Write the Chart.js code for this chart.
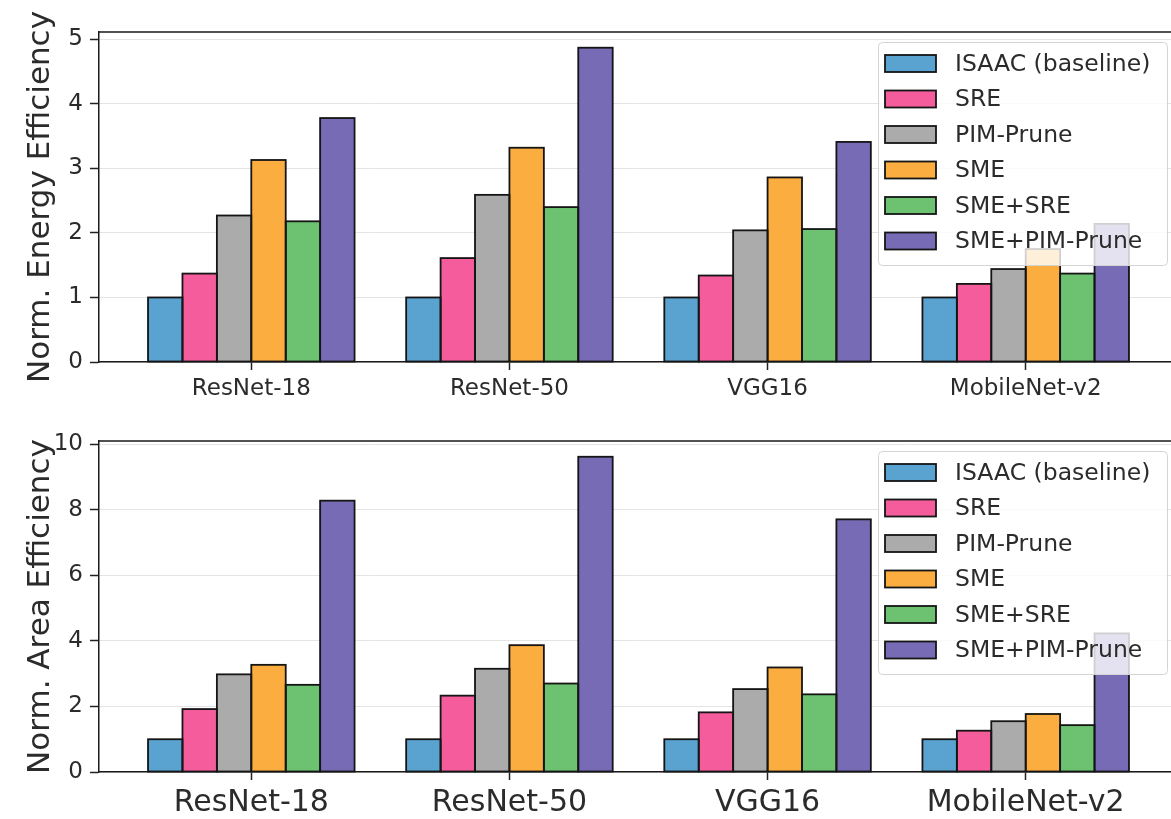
<!DOCTYPE html>
<html>
<head>
<meta charset="utf-8">
<script src="https://cdn.jsdelivr.net/npm/chart.js@4.4.1/dist/chart.umd.min.js"></script>
<style>
  html, body { margin: 0; padding: 0; background: #fff; overflow: hidden; }
  #wrap { position: relative; width: 1171px; height: 819px; overflow: hidden; }
  canvas { position: absolute; left: 0; }
  #energyChart { top: 0; }
  #areaChart { top: 410px; }
</style>
</head>
<body>
<div id="wrap">
  <canvas id="energyChart" width="1200" height="410"></canvas>
  <canvas id="areaChart" width="1200" height="409"></canvas>
</div>
<script>
// Networks on the x axis
const categories = ['ResNet-18', 'ResNet-50', 'VGG16', 'MobileNet-v2'];
const seriesNames = ['ISAAC (baseline)', 'SRE', 'PIM-Prune', 'SME', 'SME+SRE', 'SME+PIM-Prune'];
const seriesColors = ['#5aa2d0', '#f45c9b', '#ababab', '#fbad3f', '#6cc270', '#786bb6'];

const energyTicks = [0, 1, 2, 3, 4, 5];
const areaTicks = [0, 2, 4, 6, 8, 10];

// Normalized energy efficiency
const isaacEnergy = [1.0, 1.0, 1.0, 1.0];
const sreEnergy = [1.37, 1.61, 1.34, 1.21];
const pimEnergy = [2.27, 2.59, 2.04, 1.44];
const smeEnergy = [3.13, 3.32, 2.86, 1.75];
const smeSreEnergy = [2.18, 2.40, 2.06, 1.37];
const smePimEnergy = [3.78, 4.87, 3.41, 2.14];

// Normalized area efficiency
const isaacArea = [1.0, 1.0, 1.0, 1.0];
const sreArea = [1.92, 2.33, 1.82, 1.26];
const pimArea = [2.98, 3.15, 2.53, 1.55];
const smeArea = [3.27, 3.87, 3.19, 1.77];
const smeSreArea = [2.66, 2.70, 2.37, 1.43];
const smePimArea = [8.28, 9.62, 7.71, 4.23];

const FONT = 'DejaVu Sans';
const TEXT = '#2b2b2b';
const EDGE = '#151515';
const EDGE_W = 1.8;

// plot box: y axis takes 99px on the left, 22px of canvas kept free on the right
const AXIS_W = 99;
const PAD_R = 22;
const GROUP = 0.8;   // share of a category taken by its bar group

function barDatasets(series, thickness) {
    return series.map((vals, k) => ({
        label: seriesNames[k],
        data: vals.map((v, i) => ({ x: i, y: v })),
        backgroundColor: seriesColors[k],
        borderWidth: 0,
        barThickness: thickness,
    }));
}

// bar outlines centred on the edges, top spine, then the legend box over the bars
const framePlugin = {
    id: 'frame',
    afterDatasetsDraw(chart, args, opts) {
        const { ctx, chartArea: a } = chart;
        ctx.save();

        ctx.strokeStyle = EDGE;
        ctx.lineWidth = EDGE_W;
        chart.data.datasets.forEach((ds, k) => {
            chart.getDatasetMeta(k).data.forEach((bar) => {
                const { x, y, base, width } = bar.getProps(['x', 'y', 'base', 'width'], true);
                ctx.strokeRect(x - width / 2, y, width, base - y);
            });
        });

        ctx.strokeStyle = '#1a1a1a';
        ctx.lineWidth = 1.5;
        ctx.beginPath();
        ctx.moveTo(a.left, a.top);
        ctx.lineTo(a.right, a.top);
        ctx.lineTo(a.right, a.bottom);
        ctx.stroke();

        const bx = a.right - 300, by = a.top + opts.top, bw = 289, bh = 223;
        ctx.fillStyle = 'rgba(255,255,255,0.8)';
        ctx.strokeStyle = '#d4d4d4';
        ctx.lineWidth = 1;
        ctx.beginPath();
        ctx.roundRect(bx + 0.5, by + 0.5, bw, bh, 4);
        ctx.fill();
        ctx.stroke();

        ctx.font = '23.5px "' + FONT + '"';
        ctx.textBaseline = 'middle';
        chart.data.datasets.forEach((ds, k) => {
            const cy = by + 21.5 + k * 35.5;
            ctx.fillStyle = ds.backgroundColor;
            ctx.fillRect(bx + 7, cy - 8.5, 51, 17);
            ctx.strokeStyle = EDGE;
            ctx.lineWidth = EDGE_W;
            ctx.strokeRect(bx + 7, cy - 8.5, 51, 17);
            ctx.fillStyle = TEXT;
            ctx.fillText(ds.label, bx + 77, cy + 1);
        });
        ctx.restore();
    }
};

function makeChart(id, series, yTicks, yTitle, xFontSize, padTop) {
    const canvas = document.getElementById(id);
    const yMax = Math.max(...series.flat()) * 1.05;
    const span = categories.length - 1 + GROUP;
    const xPad = 0.05 * span;
    const xMin = -GROUP / 2 - xPad;
    const xMax = categories.length - 1 + GROUP / 2 + xPad;
    const unitPx = (canvas.width - AXIS_W - PAD_R) / (xMax - xMin);
    const thickness = unitPx * GROUP / seriesNames.length;

    return new Chart(canvas, {
        type: 'bar',
        data: { datasets: barDatasets(series, thickness) },
        options: {
            responsive: false,
            animation: false,
            devicePixelRatio: 1,
            layout: { padding: { top: padTop, right: PAD_R, left: 0, bottom: 0 } },
            plugins: {
                legend: { display: false },
                tooltip: { enabled: false },
                frame: { top: 10 },
            },
            scales: {
                x: {
                    type: 'linear',
                    offset: false,
                    min: xMin,
                    max: xMax,
                    afterBuildTicks: (s) => { s.ticks = categories.map((c, i) => ({ value: i })); },
                    afterFit: (s) => { s.height = canvas.height - 362; },
                    grid: {
                        offset: false,
                        drawOnChartArea: false,
                        drawTicks: true,
                        tickLength: 8,
                        tickColor: '#222',
                        tickWidth: 1.5,
                    },
                    border: { color: '#1a1a1a', width: 1.5 },
                    ticks: {
                        callback: (v) => categories[v],
                        font: { family: FONT, size: xFontSize },
                        color: TEXT,
                        padding: 5,
                        maxRotation: 0,
                        autoSkip: false,
                    }
                },
                y: {
                    min: 0,
                    max: yMax,
                    afterBuildTicks: (s) => { s.ticks = yTicks.map((v) => ({ value: v })); },
                    afterFit: (s) => { s.width = AXIS_W; },
                    grid: {
                        color: '#e4e4e4',
                        lineWidth: 1,
                        tickLength: 9,
                        tickColor: '#222',
                        tickWidth: 1.5,
                    },
                    border: { color: '#1a1a1a', width: 1.5 },
                    ticks: {
                        font: { family: FONT, size: 23 },
                        color: TEXT,
                        padding: 7,
                    },
                    title: {
                        display: true,
                        text: yTitle,
                        font: { family: FONT, size: 31 },
                        color: TEXT,
                        padding: { top: 22, bottom: 0 },
                    }
                }
            }
        },
        plugins: [framePlugin]
    });
}

makeChart('energyChart',
    [isaacEnergy, sreEnergy, pimEnergy, smeEnergy, smeSreEnergy, smePimEnergy],
    energyTicks, 'Norm. Energy Efficiency', 23, 32);

makeChart('areaChart',
    [isaacArea, sreArea, pimArea, smeArea, smeSreArea, smePimArea],
    areaTicks, 'Norm. Area Efficiency', 30, 31);
</script>
</body>
</html>
